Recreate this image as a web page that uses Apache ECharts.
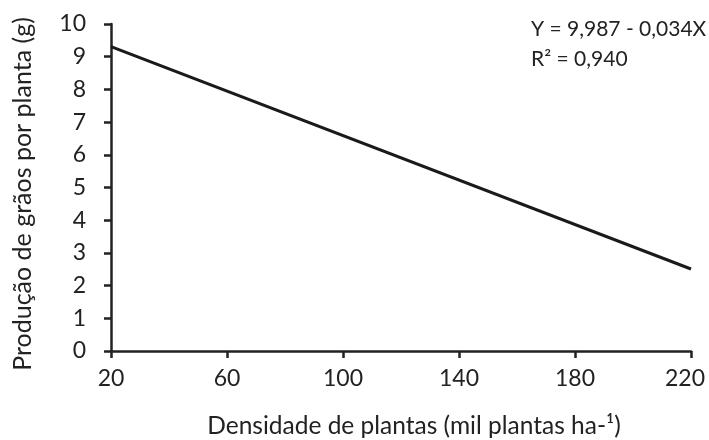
<!DOCTYPE html>
<html>
<head>
<meta charset="utf-8">
<script src="https://cdn.jsdelivr.net/npm/echarts@6/dist/echarts.min.js"></script>
<style>html,body{margin:0;padding:0;background:#fff;}#c{width:709px;height:440px;}</style>
</head>
<body>
<div id="c"></div>
<script>
const xValues = [20, 220];
const yValues = [9.307, 2.507];
const xTicks = [20, 60, 100, 140, 180, 220];
const yTicks = [0, 1, 2, 3, 4, 5, 6, 7, 8, 9, 10];
const xTitle = 'Densidade de plantas (mil plantas ha-¹)';
const yTitle = 'Produção de grãos por planta (g)';
const equation = 'Y = 9,987 - 0,034X';
const r2 = 'R² = 0,940';

const X0 = xTicks[0];
const XMAX = xTicks[xTicks.length-1];
const font = 'Lato';
const txt = '#222';
const chart = echarts.init(document.getElementById('c'));
chart.setOption({
  animation: false,
  backgroundColor: '#fff',
  textStyle: {fontFamily: font},
  grid: {left: 111, right: 18, top: 24, bottom: 89, containLabel: false, outerBoundsMode: 'none'},
  xAxis: {
    type: 'value', min: 0, max: XMAX - X0, interval: xTicks[1]-xTicks[0],
    axisLine: {lineStyle: {color: '#222', width: 2.5}},
    axisTick: {show: true, length: 7, lineStyle: {color: '#222', width: 2.5}},
    splitLine: {show: false},
    axisLabel: {
      color: txt, fontSize: 23, fontFamily: font, margin: 16,
      formatter: v => (v + X0 === XMAX) ? '{last|' + (v + X0) + '}' : String(v + X0),
      rich: {last: {color: txt, fontSize: 23, fontFamily: font, padding: [0, 12, 0, 0]}}
    },
    name: xTitle, nameLocation: 'middle', nameGap: 63,
    nameTextStyle: {color: txt, fontSize: 24.5, fontFamily: font, padding: [0, 0, 0, 26]}
  },
  yAxis: {
    type: 'value', min: yTicks[0], max: yTicks[yTicks.length-1], interval: 1,
    axisLine: {show: true, lineStyle: {color: '#222', width: 2.5}},
    axisTick: {show: true, length: 7, lineStyle: {color: '#222', width: 2.5}},
    splitLine: {show: false},
    axisLabel: {color: txt, fontSize: 23, fontFamily: font, margin: 25},
    name: yTitle, nameLocation: 'middle', nameGap: 76, nameRotate: 90,
    nameTextStyle: {color: txt, fontSize: 25, fontFamily: font, padding: [0, 13, 0, 0]}
  },
  series: [{
    type: 'line',
    data: xValues.map((x, i) => [x - X0, yValues[i]]),
    symbol: 'none',
    lineStyle: {color: '#1a1a1a', width: 3}
  }],
  graphic: [
    {type: 'text', left: 531, top: 19, style: {text: equation, fill: txt, fontSize: 21, fontFamily: font}},
    {type: 'text', left: 531, top: 49, style: {text: r2, fill: txt, fontSize: 21, fontFamily: font}}
  ]
});
</script>
</body>
</html>
